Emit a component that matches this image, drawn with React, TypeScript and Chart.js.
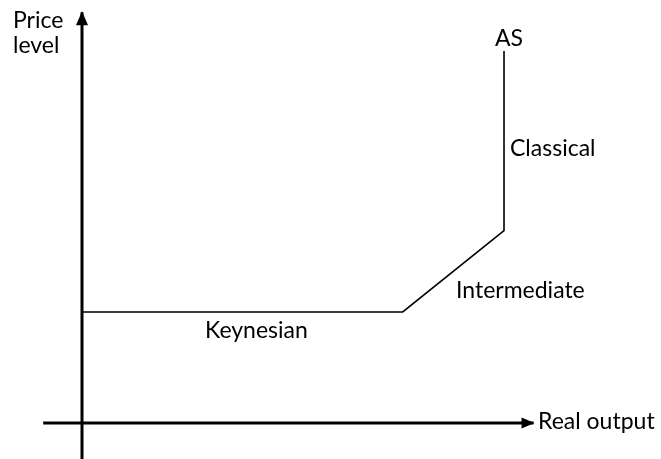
import React, { useEffect, useRef } from "react";
import { Chart, registerables } from "chart.js";

Chart.register(...registerables);

// Aggregate supply curve (real output, price level) in arbitrary units
const asOutput = [0, 7.6, 10, 10];
const asPrice = [3, 3, 5.2, 10.05];

// Axes (in the same data space)
const xAxisOutput = [-0.92, 10.7];
const yAxisPrice = [-1.0, 11.1];

// Text labels and their baseline anchors (data units)
const labelTexts = ["Price", "level", "AS", "Classical", "Intermediate", "Keynesian", "Real output"];
const labelX = [-1.635, -1.635, 9.787, 10.142, 8.863, 2.915, 10.806];
const labelY = [10.667, 9.99, 10.197, 7.216, 3.37, 2.297, -0.17];

const X_MIN = -1.943;
const X_MAX = 13.72;
const Y_MIN = -0.973;
const Y_MAX = 11.43;

const FONT = "23px Lato, 'Liberation Sans', sans-serif";

const overlayPlugin = {
  id: "overlay",
  afterDatasetsDraw(chart: any) {
    const { ctx, scales } = chart;
    const xs = scales.x;
    const ys = scales.y;
    ctx.save();
    ctx.fillStyle = "#000";
    // y-axis arrow
    const yTipX = xs.getPixelForValue(0);
    const yTipY = ys.getPixelForValue(yAxisPrice[1]);
    ctx.beginPath();
    ctx.moveTo(yTipX, yTipY - 1);
    ctx.lineTo(yTipX - 6, yTipY + 13);
    ctx.lineTo(yTipX + 6, yTipY + 13);
    ctx.closePath();
    ctx.fill();
    // x-axis arrow
    const xTipX = xs.getPixelForValue(xAxisOutput[1]);
    const xTipY = ys.getPixelForValue(0);
    ctx.beginPath();
    ctx.moveTo(xTipX + 1, xTipY);
    ctx.lineTo(xTipX - 12, xTipY - 5.5);
    ctx.lineTo(xTipX - 12, xTipY + 5.5);
    ctx.closePath();
    ctx.fill();
    // labels
    ctx.font = FONT;
    ctx.textBaseline = "alphabetic";
    ctx.textAlign = "left";
    labelTexts.forEach((t, i) => {
      ctx.fillText(t, xs.getPixelForValue(labelX[i]), ys.getPixelForValue(labelY[i]));
    });
    ctx.restore();
  },
};

export default function App() {
  const ref = useRef<HTMLCanvasElement>(null);
  useEffect(() => {
    if (!ref.current) return;
    const chart = new Chart(ref.current, {
      type: "scatter",
      data: {
        datasets: [
          {
            data: xAxisOutput.map((x) => ({ x, y: 0 })),
            showLine: true,
            borderColor: "#000",
            borderWidth: 3,
            pointRadius: 0,
          },
          {
            data: yAxisPrice.map((y) => ({ x: 0, y })),
            showLine: true,
            borderColor: "#000",
            borderWidth: 3,
            pointRadius: 0,
          },
          {
            data: asOutput.map((x, i) => ({ x, y: asPrice[i] })),
            showLine: true,
            borderColor: "#000",
            borderWidth: 1.6,
            pointRadius: 0,
            tension: 0,
          },
        ],
      },
      options: {
        responsive: false,
        animation: false,
        layout: { padding: 0 },
        plugins: { legend: { display: false }, tooltip: { enabled: false }, title: { display: false } },
        scales: {
          x: { type: "linear", min: X_MIN, max: X_MAX, display: false },
          y: { type: "linear", min: Y_MIN, max: Y_MAX, display: false },
        },
      },
      plugins: [overlayPlugin],
    } as any);
    return () => chart.destroy();
  }, []);
  return (
    <div style={{ position: "absolute", left: 0, top: 0, width: 661, height: 459, background: "#fff" }}>
      <canvas ref={ref} width={661} height={459} />
    </div>
  );
}
